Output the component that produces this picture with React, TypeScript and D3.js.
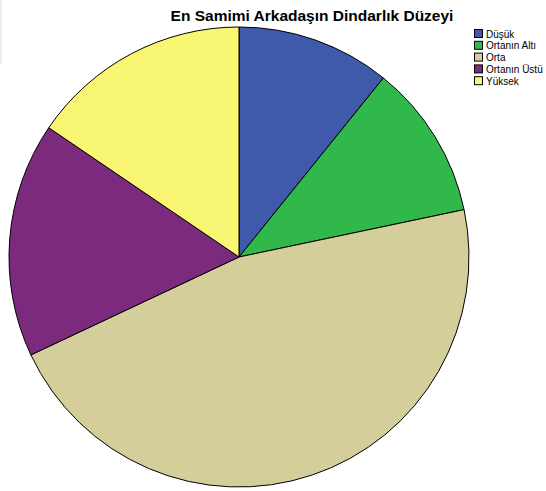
import { useRef, useEffect } from "react"
import * as d3 from "d3"

const categories = ["Düşük", "Ortanın Altı", "Orta", "Ortanın Üstü", "Yüksek"]
const percents = [10.8, 10.9, 46.3, 16.5, 15.5]
const colors = ["#3f5aab", "#30b84b", "#d4cf9a", "#7c2a7e", "#f9f673"]
const title = "En Samimi Arkadaşın Dindarlık Düzeyi"

const W = 546
const H = 491

export default function App() {
  const svgRef = useRef<SVGSVGElement>(null)

  useEffect(() => {
    if (!svgRef.current) return
    const svg = d3.select(svgRef.current)
    svg.selectAll("*").remove()

    svg.append("rect").attr("width", W).attr("height", H).attr("fill", "#ffffff")

    // faint box edge at top-left
    svg.append("rect").attr("x", 0).attr("y", 0).attr("width", 2).attr("height", 64).attr("fill", "#ececec")

    svg
      .append("text")
      .attr("x", 312)
      .attr("y", 21)
      .attr("text-anchor", "middle")
      .attr("font-family", "Liberation Sans, Arial, sans-serif")
      .attr("font-weight", "bold")
      .attr("font-size", 15.5)
      .attr("fill", "#000")
      .text(title)

    const cx = 239
    const cy = 257
    const r = 230

    const pie = d3
      .pie<number>()
      .sort(null)
      .value((d) => d)

    const arc = d3.arc<d3.PieArcDatum<number>>().innerRadius(0).outerRadius(r)

    const g = svg.append("g").attr("transform", `translate(${cx},${cy})`)
    g.selectAll("path")
      .data(pie(percents))
      .enter()
      .append("path")
      .attr("d", arc)
      .attr("fill", (d, i) => colors[i])
      .attr("stroke", "#000")
      .attr("stroke-width", 1)
      .attr("stroke-linejoin", "round")

    // legend
    const legend = svg.append("g").attr("transform", "translate(474,29)")
    const rowH = 11.8
    categories.forEach((c, i) => {
      const row = legend.append("g").attr("transform", `translate(0,${i * rowH})`)
      row
        .append("rect")
        .attr("x", 0.5)
        .attr("y", 0.5)
        .attr("width", 8)
        .attr("height", 8)
        .attr("fill", colors[i])
        .attr("stroke", "#000")
        .attr("stroke-width", 1)
      row
        .append("text")
        .attr("x", 12)
        .attr("y", 8.5)
        .attr("font-family", "Liberation Sans, Arial, sans-serif")
        .attr("font-size", 10)
        .attr("fill", "#000")
        .text(c)
    })
  }, [])

  return (
    <div style={{ position: "fixed", left: 0, top: 0 }}>
      <svg ref={svgRef} width={W} height={H} style={{ display: "block" }} />
    </div>
  )
}
